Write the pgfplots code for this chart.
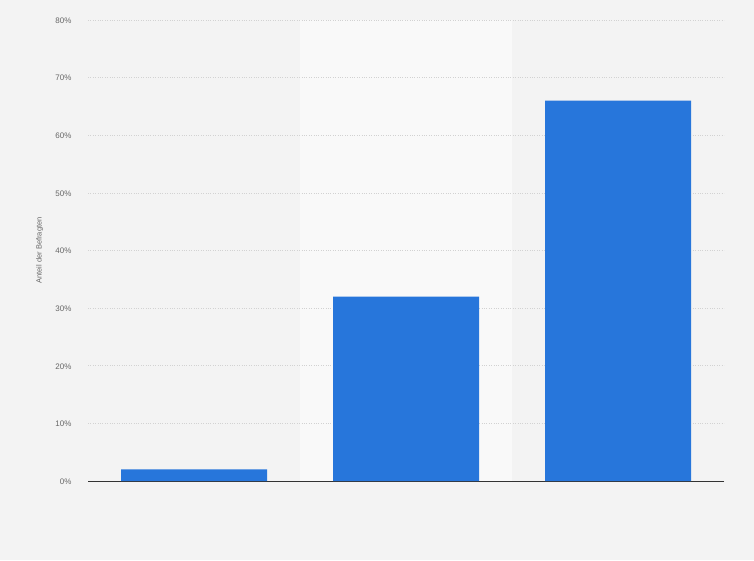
\documentclass[border=0pt]{standalone}
\usepackage{pgfplots}
\pgfplotsset{compat=1.18}
\usepackage{fontspec}
\setmainfont{Liberation Sans}
\definecolor{bgcol}{HTML}{F3F3F3}
\definecolor{bandcol}{HTML}{F9F9F9}
\definecolor{barblue}{HTML}{2776DB}
\definecolor{gridcol}{HTML}{D2D2D2}
\definecolor{ticktext}{HTML}{666666}
\begin{document}
\begin{tikzpicture}
  \path (0,0) rectangle (754pt,560pt);
  \begin{axis}[
    set layers,
    clip=false,
    at={(88pt,79pt)},
    anchor=south west,
    scale only axis,
    width=636pt,
    height=461pt,
    xmin=-0.5, xmax=2.5,
    ymin=0, ymax=80,
    ytick={0,10,...,80},
    /pgf/number format/assume math mode=true,
    yticklabel={\pgfmathprintnumber{\tick}\%},
    xtick=\empty,
    ymajorgrids=true,
    grid style={gridcol, dotted, line width=0.5pt},
    axis x line*=bottom,
    axis y line*=left,
    y axis line style={draw=none},
    x axis line style={draw=black!80, line width=1pt, -},
    tick style={draw=none},
    ticklabel style={font=\fontsize{8}{9.6}\selectfont, text=ticktext},
    yticklabel style={xshift=-13pt, yshift=-0.5pt},
    ylabel={Anteil der Befragten},
    every axis y label/.style={at={(axis description cs:-0.076,0.5)}, rotate=90, anchor=center, font=\fontsize{7.5}{9}\selectfont, text=ticktext},
    ybar,
    bar width=146pt,
  ]
  \begin{pgfonlayer}{axis background}
    \fill[bgcol] (rel axis cs:-0.13837,-0.17137) rectangle (rel axis cs:1.04717,1.04338);
    \fill[bandcol] (axis cs:0.5,0) rectangle (axis cs:1.5,80);
  \end{pgfonlayer}
  \addplot[fill=barblue, draw=none] coordinates {(0,2) (1,32) (2,66)};
  \end{axis}
\end{tikzpicture}
\end{document}
